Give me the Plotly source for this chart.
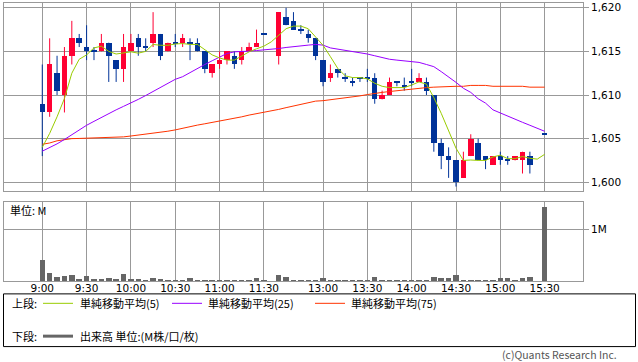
import plotly.graph_objects as go

# ---------------- data ----------------
slot_labels = ["9:00", "9:30", "10:00", "10:30", "11:00", "11:30",
               "13:00", "13:30", "14:00", "14:30", "15:00", "15:30"]
slot_ticks = [0, 6, 12, 18, 24, 30, 38, 44, 50, 56, 62, 68]

price_open = [1609.0, 1608.0, 1612.5, 1610.0, 1614.5, 1616.5, 1615.5, 1615.0, 1615.0, 1616.0,
              1614.0, 1613.0, 1615.0, 1616.5, 1615.5, 1616.0, 1617.0, 1615.0, 1616.0, 1616.0,
              1616.0, 1616.0, 1615.0, 1612.5, 1613.5, 1614.0, 1614.5, 1614.0, 1615.0, 1615.5,
              1617.0, None, 1614.5, 1619.0, 1618.5, 1617.5, 1617.0, 1616.5, 1614.0, 1612.0,
              1613.0, 1612.0, 1611.5, 1612.0, 1612.0, 1612.0, 1609.5, 1610.0, 1611.5, 1611.0,
              1611.5, 1611.5, 1611.5, 1610.0, 1604.5, 1603.0, 1602.5, 1600.5, 1603.0, 1604.5,
              1603.0, 1602.0, 1603.0, 1602.5, 1602.5, 1602.5, 1603.0, None, 1605.5]
price_high = [1613.5, 1616.5, 1614.5, 1615.5, 1618.5, 1617.0, 1618.0, 1615.5, 1617.0, 1616.0,
              1614.0, 1617.0, 1617.0, 1617.0, 1616.5, 1619.5, 1617.0, 1616.0, 1617.0, 1617.0,
              1616.5, 1616.5, 1615.0, 1613.5, 1615.0, 1615.0, 1615.0, 1615.5, 1616.0, 1617.5,
              1617.0, None, 1619.5, 1620.0, 1619.5, 1618.0, 1617.5, 1616.5, 1614.0, 1613.5,
              1613.0, 1612.5, 1612.0, 1612.0, 1613.0, 1612.5, 1610.5, 1612.0, 1611.5, 1612.0,
              1613.0, 1612.5, 1612.0, 1610.0, 1605.0, 1604.0, 1602.5, 1603.5, 1605.5, 1605.0,
              1603.0, 1603.0, 1603.5, 1603.0, 1603.0, 1603.5, 1603.5, None, 1605.5]
price_low = [1603.0, 1607.5, 1610.0, 1608.0, 1613.5, 1615.5, 1614.0, 1614.0, 1615.0, 1611.5,
             1611.5, 1611.5, 1615.0, 1614.5, 1615.0, 1615.5, 1614.0, 1615.0, 1615.5, 1615.5,
             1614.0, 1615.0, 1612.5, 1612.0, 1613.0, 1613.5, 1613.0, 1613.5, 1615.0, 1615.5,
             1617.0, None, 1613.5, 1618.0, 1617.5, 1617.0, 1616.0, 1614.0, 1611.0, 1611.5,
             1612.0, 1611.5, 1611.0, 1611.5, 1611.5, 1609.0, 1609.5, 1610.0, 1611.0, 1610.5,
             1611.0, 1611.5, 1610.0, 1603.5, 1601.5, 1600.5, 1599.5, 1600.5, 1603.0, 1602.5,
             1601.5, 1602.0, 1602.0, 1602.0, 1602.5, 1601.0, 1601.0, None, 1605.5]
price_close = [1608.0, 1613.5, 1610.5, 1614.5, 1616.5, 1616.0, 1615.0, 1615.0, 1616.0, 1614.5,
               1613.0, 1615.5, 1616.0, 1615.5, 1615.5, 1617.0, 1614.5, 1616.0, 1616.0, 1616.5,
               1616.0, 1615.0, 1613.0, 1613.5, 1614.0, 1615.0, 1613.5, 1615.0, 1615.5, 1616.0,
               1617.0, None, 1619.5, 1618.0, 1617.5, 1617.5, 1616.5, 1614.5, 1611.5, 1612.5,
               1612.5, 1612.0, 1611.5, 1612.0, 1612.0, 1609.5, 1610.0, 1611.5, 1611.5, 1611.0,
               1611.5, 1612.0, 1610.5, 1604.5, 1603.0, 1602.5, 1600.0, 1602.5, 1605.0, 1602.5,
               1602.5, 1603.0, 1602.5, 1602.5, 1603.0, 1603.5, 1602.0, None, 1605.5]

ma5 = [1604.0, 1605.6, 1607.5, 1609.6, 1612.5, 1614.1, 1614.6, 1615.4, 1615.6, 1615.0,
       1614.7, 1614.85, 1614.95, 1614.8, 1615.0, 1615.8, 1615.7, 1615.7, 1615.85, 1615.9,
       1615.8, 1615.8, 1615.15, 1614.6, 1614.25, 1614.0, 1614.0, 1614.5, 1614.95, 1615.3,
       1615.6, 1616.1, 1616.9, 1617.6, 1617.9, 1617.9, 1617.6, 1616.7, 1615.7, 1614.4,
       1613.05, 1612.2, 1612.0, 1612.0, 1611.85, 1611.35, 1611.0, 1610.85, 1610.85, 1610.85,
       1611.15, 1611.5, 1611.25, 1609.7, 1607.9, 1606.0, 1603.9, 1602.5, 1602.55, 1602.5,
       1602.5, 1602.9, 1603.1, 1602.7, 1602.7, 1602.95, 1602.75, 1602.65, 1603.2]
ma25 = [1603.56, 1603.94, 1604.4, 1604.9, 1605.47, 1606.04, 1606.53, 1606.98, 1607.44, 1607.89,
        1608.3, 1608.7, 1609.07, 1609.5, 1609.94, 1610.4, 1610.85, 1611.27, 1611.8, 1612.1,
        1612.6, 1613.05, 1613.5, 1613.93, 1614.38, 1614.76, 1614.95, 1614.95, 1615.03, 1615.1,
        1615.15, 1615.25, 1615.33, 1615.45, 1615.56, 1615.64, 1615.72, 1615.8, 1615.72, 1615.4,
        1615.26, 1615.15, 1615.03, 1614.84, 1614.7, 1614.5, 1614.3, 1614.1, 1614.0, 1613.9,
        1613.82, 1613.74, 1613.5, 1613.25, 1612.68, 1612.1, 1611.45, 1610.77, 1610.3, 1609.57,
        1609.07, 1608.3, 1607.93, 1607.55, 1607.17, 1606.87, 1606.53, 1606.22, 1605.84]
ma75 = [1604.35, 1604.5, 1604.75, 1604.9, 1605.0, 1605.02, 1605.04, 1605.06, 1605.08, 1605.1,
        1605.14, 1605.2, 1605.3, 1605.4, 1605.47, 1605.58, 1605.7, 1605.85, 1606.0, 1606.2,
        1606.4, 1606.55, 1606.7, 1606.85, 1607.0, 1607.2, 1607.35, 1607.5, 1607.7, 1607.85,
        1608.0, 1608.2, 1608.35, 1608.55, 1608.75, 1608.95, 1609.15, 1609.3, 1609.35, 1609.45,
        1609.6, 1609.7, 1609.8, 1609.9, 1610.05, 1610.2, 1610.3, 1610.4, 1610.5, 1610.6,
        1610.65, 1610.75, 1610.85, 1610.9, 1610.95, 1611.0, 1611.0, 1611.0, 1611.1, 1611.1,
        1611.1, 1611.0, 1611.0, 1611.0, 1611.0, 1611.0, 1610.9, 1610.9, 1610.9]

volume_m = [0.40, 0.165, 0.075, 0.09, 0.11, 0.035, 0.09, 0.035, 0.035, 0.055,
            0.035, 0.13, 0.035, 0.035, 0.01, 0.055, 0.035, 0.015, 0.015, 0.03,
            0.055, 0.03, 0.03, 0.01, 0.03, 0.01, 0.03, 0.01, 0.03, 0.055,
            0.005, None, 0.125, 0.075, 0.03, 0.01, 0.03, 0.03, 0.05, 0.01,
            0.01, 0.01, 0.01, 0.03, 0.01, 0.075, 0.03, 0.03, 0.01, 0.03,
            0.03, 0.01, 0.01, 0.075, 0.05, 0.055, 0.11, 0.03, 0.03, 0.03,
            0.03, 0.03, 0.055, 0.05, 0.03, 0.055, 0.075, None, 1.42]

price_ticks = [1600, 1605, 1610, 1615, 1620]

# ---------------- styling ----------------
W, H = 638, 362
UP = "#ff0033"
DOWN = "#003399"
GRID = "#999999"
C5, C25, C75 = "#99cc00", "#9900ff", "#ff3300"
VOLC = "#666666"
FONT = "DejaVu Sans"
JFONT = "Noto Sans CJK JP"


def px(x):
    return x / W


def py(y):
    return 1 - y / H


slots = list(range(len(price_open)))

# wicks and bodies
wick = {UP: ([], []), DOWN: ([], [])}
bx, by, bbase, bcol = [], [], [], []
for i in slots:
    o, h, l, c = price_open[i], price_high[i], price_low[i], price_close[i]
    if o is None:
        continue
    col = UP if c > o else DOWN
    if h > l:
        wick[col][0].extend([i, i, None])
        wick[col][1].extend([l, h, None])
    bx.append(i)
    if c == o:
        bbase.append(c - 0.06)
        by.append(0.12)
    else:
        bbase.append(o)
        by.append(c - o)
    bcol.append(col)

fig = go.Figure()
for col, (wx, wy) in wick.items():
    fig.add_trace(go.Scatter(x=wx, y=wy, mode="lines", line=dict(color=col, width=1),
                             xaxis="x", yaxis="y", hoverinfo="skip", showlegend=False))
fig.add_trace(go.Bar(x=bx, y=by, base=bbase, width=0.74, marker=dict(color=bcol, line=dict(width=0)),
                     xaxis="x", yaxis="y", showlegend=False))
for vals, col in [(ma75, C75), (ma25, C25), (ma5, C5)]:
    fig.add_trace(go.Scatter(x=slots, y=vals, mode="lines", line=dict(color=col, width=1),
                             connectgaps=True, xaxis="x", yaxis="y", showlegend=False))

fig.add_trace(go.Bar(x=slots, y=volume_m, width=0.74, marker=dict(color=VOLC, line=dict(width=0)),
                     xaxis="x2", yaxis="y2", showlegend=False))

xrange = [-5.18, 73.19]
xdom = [px(4), px(583)]
axis_common = dict(showgrid=True, gridcolor=GRID, gridwidth=1, zeroline=False,
                   showline=True, mirror=True, linecolor=GRID, linewidth=1)

fig.update_layout(
    width=W, height=H, margin=dict(l=0, r=0, t=0, b=0),
    paper_bgcolor="white", plot_bgcolor="white",
    barmode="overlay", bargap=0,
    font=dict(family=FONT, size=10.5, color="#000000"),
    xaxis=dict(domain=xdom, range=xrange, anchor="y", tickmode="array", tickvals=slot_ticks,
               showticklabels=False, ticks="", **axis_common),
    yaxis=dict(domain=[py(190), py(1)], range=[1599.0, 1620.55], anchor="x", side="right",
               tickmode="array", tickvals=price_ticks, ticktext=[f"{v:,}" for v in price_ticks],
               ticks="outside", ticklen=5, tickcolor=GRID, ticklabeloverflow="allow",
               **axis_common),
    xaxis2=dict(domain=xdom, range=xrange, anchor="y2", tickmode="array", tickvals=slot_ticks,
                ticktext=slot_labels, ticks="", ticklabelstandoff=-3, **axis_common),
    yaxis2=dict(domain=[py(280.5), py(201)], range=[0, 1.523], anchor="x2", side="right",
                tickmode="array", tickvals=[1], ticktext=["1M"],
                ticks="outside", ticklen=5, tickcolor=GRID, **axis_common),
)

shapes = [
    dict(type="rect", xref="paper", yref="paper", x0=px(3.5), x1=px(635.5), y0=py(346.5), y1=py(293.5),
         line=dict(color="#000000", width=1), fillcolor="rgba(0,0,0,0)"),
    dict(type="line", xref="paper", yref="paper", x0=px(43), x1=px(73), y0=py(303), y1=py(303),
         line=dict(color=C5, width=1)),
    dict(type="line", xref="paper", yref="paper", x0=px(172), x1=px(202), y0=py(303), y1=py(303),
         line=dict(color=C25, width=1)),
    dict(type="line", xref="paper", yref="paper", x0=px(315), x1=px(345), y0=py(303), y1=py(303),
         line=dict(color=C75, width=1)),
    dict(type="line", xref="paper", yref="paper", x0=px(43), x1=px(73), y0=py(336), y1=py(336),
         line=dict(color=VOLC, width=3)),
]


def ann(x, y, text, anchor="left", size=11, color="#000000", family=JFONT):
    return dict(xref="paper", yref="paper", x=px(x), y=py(y), text=text, showarrow=False,
                xanchor=anchor, yanchor="middle", font=dict(family=family, size=size, color=color))


annotations = [
    ann(8, 209, "単位: M"),
    ann(10, 303, "上段:"),
    ann(78, 303, "単純移動平均(5)"),
    ann(206, 303, "単純移動平均(25)"),
    ann(349, 303, "単純移動平均(75)"),
    ann(10, 336, "下段:"),
    ann(78, 336, "出来高 単位:(M株/口/枚)"),
    ann(619, 354.5, "(c)Quants Research Inc.", anchor="right", size=10.5, color="#555555"),
]
fig.update_layout(shapes=shapes, annotations=annotations)

fig.write_html("out.html", config={"displayModeBar": False},
               post_script="document.body.style.margin='0';document.body.style.overflow='hidden';")
